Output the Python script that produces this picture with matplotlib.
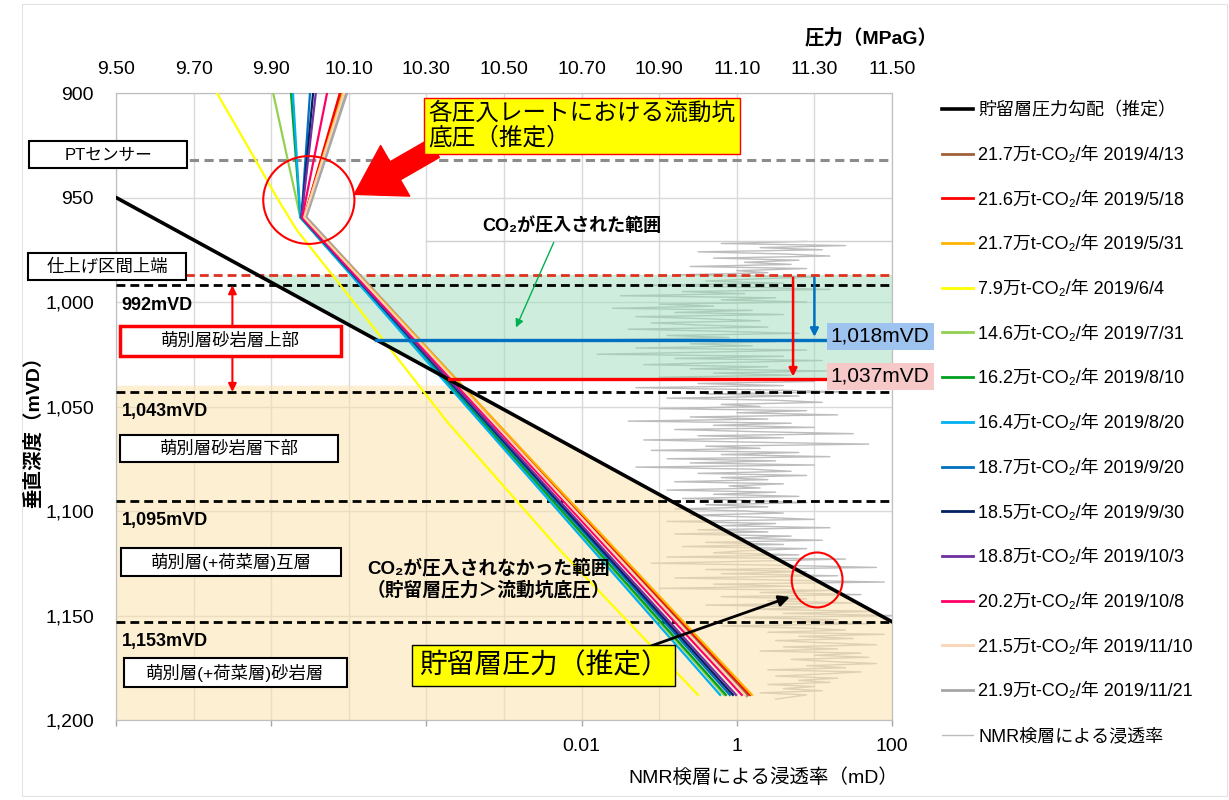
import matplotlib
matplotlib.use('Agg')
import matplotlib.pyplot as plt
from matplotlib.patches import Rectangle, Ellipse, Polygon
from matplotlib.lines import Line2D
import matplotlib.transforms as mtransforms
import numpy as np

plt.rcParams['font.family'] = ['Liberation Sans', 'Noto Sans CJK JP', 'DejaVu Sans']

W, H = 1229, 800

# 貯留層圧力勾配（推定）
res_press = [9.50, 11.50]
res_depth = [950, 1153]

# 各圧入レートの流動坑底圧（坑口側→折れ点→坑底）
flow_depth = [900, 959.5, 1188]
flow_labels = ['21.7万t-CO₂/年 2019/4/13', '21.6万t-CO₂/年 2019/5/18', '21.7万t-CO₂/年 2019/5/31',
               '14.6万t-CO₂/年 2019/7/31', '16.2万t-CO₂/年 2019/8/10', '16.4万t-CO₂/年 2019/8/20',
               '18.7万t-CO₂/年 2019/9/20', '18.5万t-CO₂/年 2019/9/30', '18.8万t-CO₂/年 2019/10/3',
               '20.2万t-CO₂/年 2019/10/8', '21.5万t-CO₂/年 2019/11/10', '21.9万t-CO₂/年 2019/11/21']
flow_colors = ['#A0603A', '#FF0000', '#FFB300', '#92D050', '#00A020', '#00B0F0',
               '#0070C0', '#002060', '#7030A0', '#FF0066', '#FAD4B4', '#A6A6A6']
p_top = [10.080, 10.077, 10.085, 9.905, 9.951, 9.956, 10.000, 10.008, 10.015, 10.044, 10.088, 10.093]
p_kink = [9.985, 9.985, 9.985, 9.975, 9.975, 9.975, 9.978, 9.978, 9.978, 9.980, 9.985, 9.988]
p_bot = [11.128, 11.134, 11.139, 11.067, 11.072, 11.057, 11.082, 11.090, 11.098, 11.113, 11.121, 11.126]

# 7.9万t-CO2/年 (2019/6/4)
low_label = '7.9万t-CO₂/年 2019/6/4'
low_depth = [900, 927.3, 950.2, 965.6, 992.8, 1057.9, 1118.7, 1188]
low_press = [9.760, 9.845, 9.915, 9.966, 10.082, 10.356, 10.644, 11.000]

# NMR検層による浸透率 log10(mD), 1m間隔
nmr_top = 971
nmr_logk = [
    0.9, -0.2, 1.4, 0.3, 1.1, -0.5, 0.6, 1.2, -0.3, 0.8,
    0.1, 0.7, -0.6, 0.9, 0.0, 0.4, -0.8, 1.0, 0.2, -0.4,
    0.6, -1.2, 0.3, 1.2, -0.7, 0.1, -1.5, 0.5, -0.2, 0.9,
    -1.0, -0.3, -1.6, 0.2, -0.8, 0.6, -1.3, -0.4, 0.3, -1.1,
    -0.5, 0.4, -1.4, -0.2, 0.8, -0.9, -0.1, -1.6, 0.5, -0.6,
    0.2, -1.3, 0.9, -0.4, -1.8, 0.6, -0.8, 1.1, -0.2, -1.2,
    0.4, -0.6, 1.2, -0.3, 0.7, -1.0, 0.2, 1.0, -0.5, 0.6,
    -1.3, 0.3, 1.4, -0.4, 0.8, -0.9, 0.5, 1.1, -0.2, 0.3,
    -1.0, 0.9, 0.0, 1.3, -0.6, 0.4, -1.4, 0.7, -0.3, 1.0,
    -0.8, 0.2, 1.5, -0.5, 0.6, -1.2, 0.1, 1.7, -0.4, 0.3,
    -1.1, 0.8, -0.2, 1.2, -0.9, 0.5, -0.6, 1.0, -1.3, 0.2,
    0.7, -0.5, 0.9, -0.2, 0.4, -0.8, 0.6, -0.1, 0.3, -0.9,
    0.5, -0.3, 0.8, -0.7, 0.2, 0.9, -0.4, 0.4, -0.8, 0.1,
    0.6, -0.6, 0.3, 1.0, -0.9, 0.5, -0.2, 1.2, -0.5, 0.4,
    -0.8, 0.7, 0.0, 1.1, -0.4, 0.6, -0.7, 0.9, 0.1, -0.3,
    0.8, -0.9, 1.4, 0.2, -1.1, 0.6, 1.8, -0.4, 0.9, -0.2,
    1.3, -0.8, 0.5, 1.9, -0.3, 0.7, -1.0, 1.2, 0.3, 1.6,
    -0.2, 0.9, 0.4, 1.5, -0.4, 1.1, 0.2, 1.8, 0.6, 2.0,
    0.1, 1.3, 0.7, 1.7, -0.2, 0.9, 1.4, 0.4, 1.9, 0.8,
    1.5, 0.5, 1.1, 1.8, 0.6, 1.3, 0.3, 1.6, 1.0, 1.7,
    0.7, 1.2, 1.8, 0.9, 1.4, 0.4, 1.6, 1.1, 0.5, 1.3,
    0.8, 1.2, 0.4, 1.0, 0.6, 1.1, 0.3, 0.9, 0.7, 0.5,
]

# 深度の目印
pt_sensor = 932
perf_top = 987
layer_tops = [992, 1043, 1095, 1153]
layer_names = ['萌別層砂岩層上部', '萌別層砂岩層下部', '萌別層(+荷菜層)互層', '萌別層(+荷菜層)砂岩層']
co2_bottom_blue = 1018
co2_bottom_red = 1037
beige_top = 1040


def px_box(x0, y0, x1, y1):
    return (x0 / W, 1 - y1 / H), (x1 - x0) / W, (y1 - y0) / H


def label_box(x0, y0, x1, y1, text, ec='black', lw=1.5, size=12.5):
    xy, w, h = px_box(x0, y0, x1, y1)
    fig.add_artist(Rectangle(xy, w, h, transform=fig.transFigure, fc='white', ec=ec, lw=lw, zorder=5))
    fig.text((x0 + x1) / 2 / W, 1 - (y0 + y1) / 2 / H, text, ha='center', va='center',
             fontsize=size, zorder=6)


fig = plt.figure(figsize=(W / 100, H / 100), dpi=100)
fig.add_artist(Rectangle((22 / W, 4 / H), 1205 / W, 792 / H, transform=fig.transFigure,
                         fc='none', ec='#E3E3E3', lw=0.8))

ax_k = fig.add_axes([116 / W, 1 - 720 / H, 776 / W, 627 / H])
ax_k.set_xscale('log')
ax_k.set_xlim(1e-8, 1e2)
ax_k.set_ylim(1200, 900)
ax_k.set_xticks([1e-8, 1e-6, 1e-4, 1e-2, 1, 1e2])
ax_k.set_xticklabels(['', '', '', '0.01', '1', '100'])
ax_k.set_xticks([10.0 ** e for e in range(-7, 2, 2)], minor=True)
ax_k.set_xticklabels([], minor=True)
ax_k.tick_params(axis='x', which='major', direction='out', length=4, width=1, color='#A6A6A6',
                 labelsize=14, pad=9)
ax_k.tick_params(axis='x', which='minor', length=0)
ax_k.set_yticks(np.arange(900, 1201, 50))
ax_k.yaxis.set_major_formatter(lambda v, pos: f'{v:,.0f}')
ax_k.tick_params(axis='y', length=0, labelsize=14, pad=16)
ax_k.grid(True, which='both', color='#D9D9D9', lw=1)
ax_k.set_axisbelow(True)
for s in ax_k.spines.values():
    s.set_color('#BFBFBF')

# NMR浸透率ログ
nmr_depth = nmr_top + np.arange(len(nmr_logk))
ax_k.plot(10.0 ** np.array(nmr_logk), nmr_depth, color='#BDBDBD', lw=1, zorder=2)

ax_p = ax_k.twiny()
ax_p.set_xlim(9.5, 11.5)
ax_p.set_xticks(np.arange(9.5, 11.51, 0.2))
ax_p.xaxis.set_major_formatter('{x:.2f}')
ax_p.tick_params(axis='x', length=0, labelsize=14, pad=11)
for s in ax_p.spines.values():
    s.set_color('#BFBFBF')


def res_p(d):
    return np.interp(d, res_depth, res_press)


# CO2が圧入された範囲（緑）と圧入されなかった範囲（ベージュ）
green = Polygon([(res_p(perf_top), perf_top), (11.5, perf_top), (11.5, co2_bottom_red),
                 (res_p(co2_bottom_red), co2_bottom_red)], closed=True,
                fc='#9EDDBB', ec='none', alpha=0.5, zorder=1)
ax_p.add_patch(green)
beige = Polygon([(9.5, beige_top), (res_p(beige_top), beige_top), (11.5, res_depth[1]),
                 (11.5, 1200), (9.5, 1200)], closed=True,
                fc='#FCE2AE', ec='none', alpha=0.55, zorder=1)
ax_p.add_patch(beige)
ax_p.plot([10.3, 11.5], [nmr_top, nmr_top], color='#D0D0D0', lw=1, zorder=1)

# 深度ライン
ax_p.axhline(pt_sensor, color='#8C8C8C', lw=2.2, ls=(0, (3, 1.8)), zorder=3)
ax_p.axhline(perf_top, color='#E0301E', lw=2, ls=(0, (3.2, 1.8)), zorder=3)
for d in layer_tops:
    ax_p.axhline(d, color='black', lw=2, ls=(0, (3.2, 1.8)), zorder=3)

# 流動坑底圧
ax_p.plot([p_top[-1], p_kink[-1], p_bot[-1]], flow_depth, color=flow_colors[-1], lw=3, zorder=4)
for i in range(len(flow_labels) - 1):
    ax_p.plot([p_top[i], p_kink[i], p_bot[i]], flow_depth, color=flow_colors[i], lw=1.6, zorder=5)
ax_p.plot(low_press, low_depth, color='#FFFF00', lw=1.6, zorder=5)
ax_p.plot(res_press, res_depth, color='black', lw=2.6, zorder=6)

# 1,018 / 1,037mVD
ax_p.plot([res_p(co2_bottom_blue), 11.5], [co2_bottom_blue] * 2, color='#0070C0', lw=2.4, zorder=6)
ax_p.plot([res_p(co2_bottom_red), 11.5], [co2_bottom_red] * 2, color='#FF0000', lw=2.4, zorder=6)
ax_p.annotate('', xy=(11.30, co2_bottom_blue), xytext=(11.30, perf_top),
              arrowprops=dict(arrowstyle='-|>', color='#0070C0', lw=1.8, mutation_scale=12), zorder=7)
ax_p.annotate('', xy=(11.245, co2_bottom_red), xytext=(11.245, perf_top),
              arrowprops=dict(arrowstyle='-|>', color='#FF0000', lw=1.8, mutation_scale=12), zorder=7)
blend = mtransforms.blended_transform_factory(ax_p.transAxes, ax_p.transData)
ax_p.text(0.921, co2_bottom_blue - 1.5, '1,018mVD', transform=blend, fontsize=15, va='center', ha='left',
          bbox=dict(boxstyle='square,pad=0.2', fc='#9DC3EE', ec='none'), zorder=8, clip_on=False)
ax_p.text(0.921, co2_bottom_red - 1.5, '1,037mVD', transform=blend, fontsize=15, va='center', ha='left',
          bbox=dict(boxstyle='square,pad=0.2', fc='#F6C8C8', ec='none'), zorder=8, clip_on=False)

# 層区分ラベル
for d in layer_tops:
    ax_p.text(0.007, d + 9.5, f'{d:,}mVD', transform=blend, fontsize=13, fontweight='bold',
              va='center', ha='left', zorder=7)
ax_p.annotate('', xy=(9.80, layer_tops[0]), xytext=(9.80, layer_tops[1]),
              arrowprops=dict(arrowstyle='<|-|>', color='#FF0000', lw=1.5, mutation_scale=12,
                              shrinkA=0, shrinkB=0), zorder=7)

# 注記
ax_p.add_patch(Ellipse((9.997, 951.2), 0.235, 42, fc='none', ec='#FF0000', lw=1.5, zorder=8))
ax_p.add_patch(Ellipse((11.307, 1133), 0.131, 26.3, fc='none', ec='#FF0000', lw=1.5, zorder=8))
ax_p.text(10.305, 904.2, '各圧入レートにおける流動坑\n底圧（推定）', fontsize=17, va='top', ha='left',
          linespacing=1.15, zorder=9,
          bbox=dict(boxstyle='square,pad=0.18', fc='#FFFF00', ec='#FF0000', lw=1))
ax_p.annotate('', xy=(10.114, 948.5), xytext=(10.32, 926.5),
              arrowprops=dict(arrowstyle='simple,head_length=1.7,head_width=2.1,tail_width=0.75',
                              fc='#FF0000', ec='#FF0000', mutation_scale=20, shrinkA=0, shrinkB=0),
              zorder=8)
ax_p.text(10.675, 963.6, 'CO₂が圧入された範囲', fontsize=13, fontweight='bold', ha='center', va='center',
          zorder=8)
ax_p.annotate('', xy=(10.528, 1013.4), xytext=(10.631, 970.3),
              arrowprops=dict(arrowstyle='-|>', color='#00B050', lw=1, mutation_scale=12), zorder=8)
ax_p.text(10.46, 1132.5, 'CO₂が圧入されなかった範囲\n（貯留層圧力＞流動坑底圧）', fontsize=13.5,
          fontweight='bold', ha='center', va='center', linespacing=1.25, zorder=8)
ax_p.text(10.28, 1174, '貯留層圧力（推定）', fontsize=20, va='center', ha='left', zorder=9,
          bbox=dict(boxstyle='square,pad=0.25', fc='#FFFF00', ec='black', lw=1))
ax_p.annotate('', xy=(11.237, 1141.1), xytext=(10.88, 1164.5),
              arrowprops=dict(arrowstyle='-|>', color='black', lw=2, mutation_scale=16,
                              shrinkA=0, shrinkB=0), zorder=8)

# 軸ラベル
fig.text(938 / W, 1 - 38 / H, '圧力（MPaG）', ha='right', va='center', fontsize=14, fontweight='bold')
fig.text(33 / W, 1 - 427 / H, '垂直深度（mVD）', ha='center', va='center', rotation=90, fontsize=14,
         fontweight='bold')
fig.text(763 / W, 1 - 777 / H, 'NMR検層による浸透率（mD）', ha='center', va='center', fontsize=14)

# 左側の枠付きラベル
label_box(29, 141, 187, 168, 'PTセンサー', size=12)
label_box(28, 253, 186, 280, '仕上げ区間上端', size=12.5)
label_box(120, 326, 341, 356, layer_names[0], ec='#FF0000', lw=2.5)
label_box(120, 435, 338, 462, layer_names[1])
label_box(121, 548, 341, 576, layer_names[2])
label_box(124, 658, 347, 687, layer_names[3])

# 凡例
handles = [Line2D([], [], color='black', lw=2.6)]
labels = ['貯留層圧力勾配（推定）']
for i in range(len(flow_labels)):
    if i == 3:
        handles.append(Line2D([], [], color='#FFFF00', lw=2))
        labels.append(low_label)
    handles.append(Line2D([], [], color=flow_colors[i], lw=2))
    labels.append(flow_labels[i])
handles.append(Line2D([], [], color='#BDBDBD', lw=1))
labels.append('NMR検層による浸透率')
fig.legend(handles, labels, loc='upper left', bbox_to_anchor=(942 / W, 1 - 102 / H), frameon=False,
           fontsize=13, handlelength=1.7, handletextpad=0.3, labelspacing=1.52, borderaxespad=0,
           borderpad=0)

fig.savefig('out.png', dpi=100)
